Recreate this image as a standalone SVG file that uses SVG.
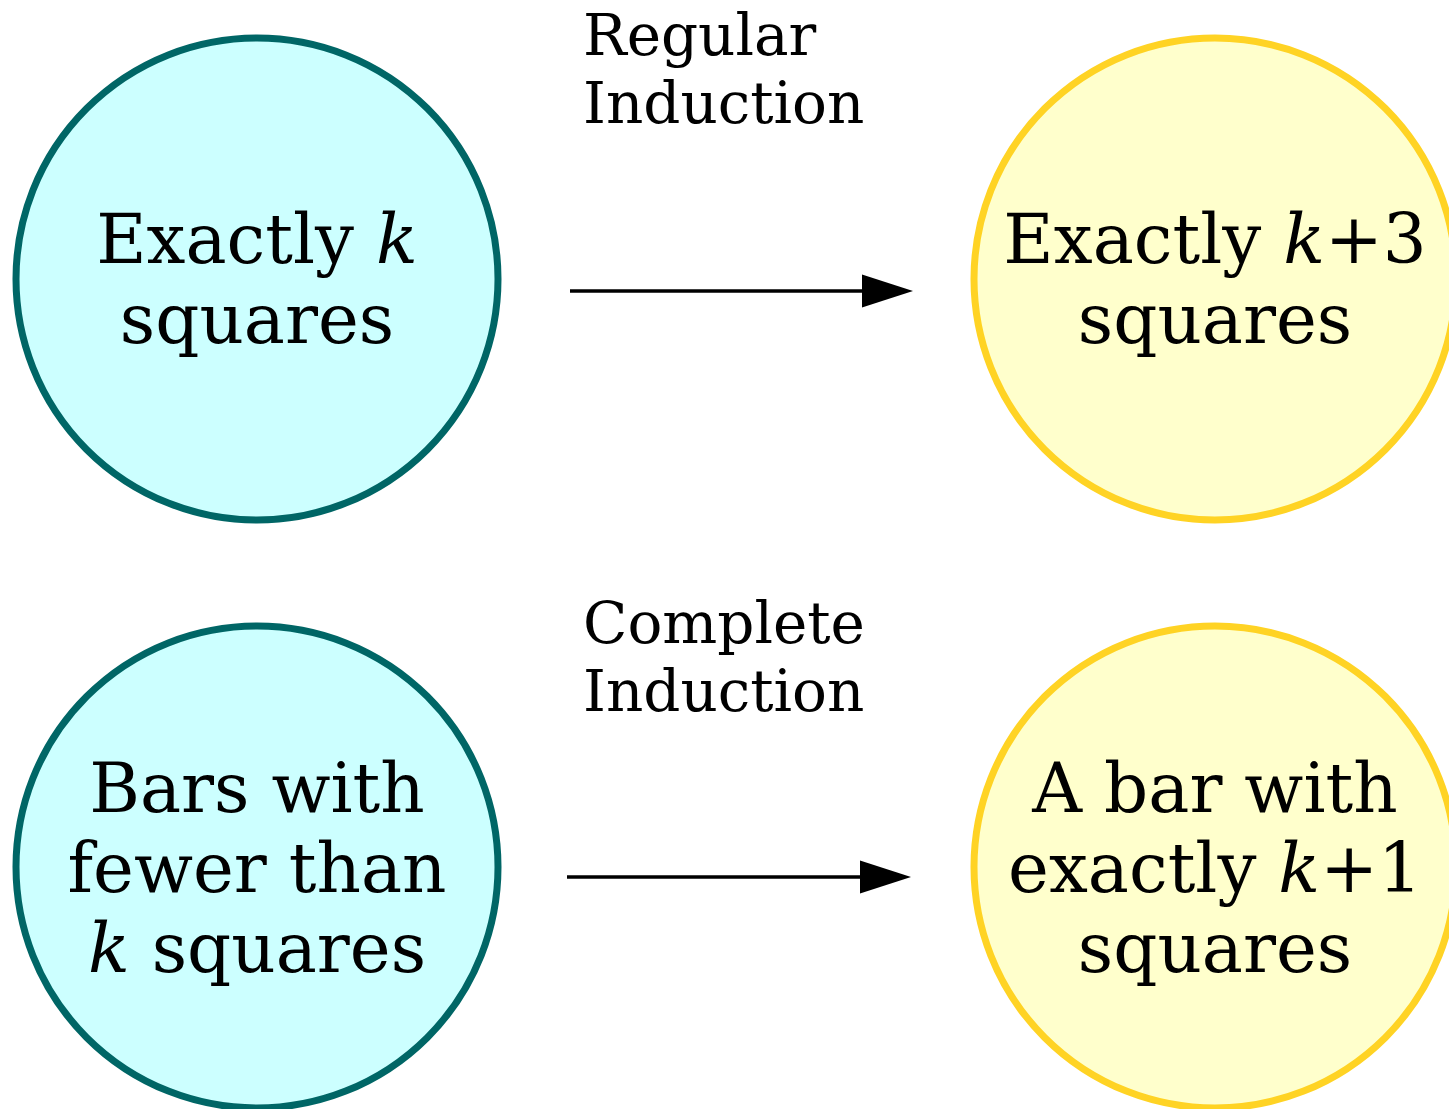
<svg xmlns="http://www.w3.org/2000/svg" width="1449" height="1109" viewBox="0 0 1449 1109">
<style>
.src{fill:#ccffff;stroke:#006666;stroke-width:7}
.dst{fill:#ffffcc;stroke:#ffd324;stroke-width:7}
.nt{font-family:"DejaVu Serif",serif;font-size:69px;fill:#000;text-anchor:middle}
.lt{font-family:"DejaVu Serif",serif;font-size:58px;fill:#000}
.i{font-style:italic}
.edge{stroke:#000;stroke-width:3.5;fill:none}
</style>
<defs>
<marker id="ah" markerUnits="userSpaceOnUse" markerWidth="54" markerHeight="34" refX="1" refY="16.5" orient="auto" overflow="visible">
<polygon points="0,0 51,16.5 0,33" fill="#000"/>
</marker>
</defs>
<rect width="1449" height="1109" fill="#fff"/>
<g id="edges">
<g id="e1">
<line class="edge" x1="570" y1="291" x2="863" y2="291" marker-end="url(#ah)"/>
<text class="lt" x="583" y="55">Regular</text>
<text class="lt" x="583" y="123">Induction</text>
</g>
<g id="e2">
<line class="edge" x1="567" y1="877" x2="861" y2="877" marker-end="url(#ah)"/>
<text class="lt" x="583" y="643">Complete</text>
<text class="lt" x="583" y="711">Induction</text>
</g>
</g>
<g id="n1">
<circle class="src" cx="257" cy="279" r="241"/>
<text class="nt" x="257" y="263">Exactly <tspan class="i">k</tspan></text>
<text class="nt" x="257" y="343">squares</text>
</g>
<g id="n2">
<circle class="dst" cx="1215" cy="279" r="241"/>
<text class="nt" x="1215" y="263">Exactly <tspan class="i">k</tspan>+3</text>
<text class="nt" x="1215" y="343">squares</text>
</g>
<g id="n3">
<circle class="src" cx="257" cy="867" r="241"/>
<text class="nt" x="257" y="812">Bars with</text>
<text class="nt" x="257" y="892">fewer than</text>
<text class="nt" x="257" y="972"><tspan class="i">k</tspan> squares</text>
</g>
<g id="n4">
<circle class="dst" cx="1215" cy="867" r="241"/>
<text class="nt" x="1215" y="812">A bar with</text>
<text class="nt" x="1215" y="892">exactly <tspan class="i">k</tspan>+1</text>
<text class="nt" x="1215" y="972">squares</text>
</g>
</svg>
